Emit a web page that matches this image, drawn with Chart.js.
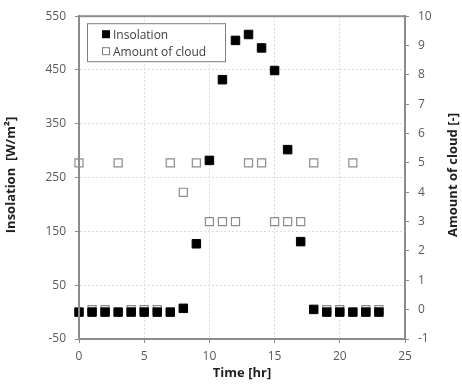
<!DOCTYPE html>
<html lang="en">
<head>
<meta charset="UTF-8">
<title>Insolation and cloud</title>
<script src="https://cdn.jsdelivr.net/npm/chart.js"></script>
<style>
  body { margin: 0; background: #fff; }
  .wrap { width: 462px; height: 385px; }
</style>
</head>
<body>
<div class="wrap"><canvas id="chart" width="462" height="385"></canvas></div>
<script>
// hours of the day
const hours = [0,1,2,3,4,5,6,7,8,9,10,11,12,13,14,15,16,17,18,19,20,21,22,23];
// insolation [W/m2]
const insolation = [0,0,0,0,0,0,0,0,7,127,282,432,505,516,491,449,302,131,5,0,0,0,0,0];
// amount of cloud [-]
const cloud = [5,0,0,5,0,0,0,5,4,5,3,3,3,5,5,3,3,3,5,0,0,5,0,0];

const xTicks = [0,5,10,15,20,25];
const leftTitle = 'Insolation  [W/m²]';
const rightTitle = 'Amount of cloud [-]';

const tickFont = { family: 'Open Sans', size: 12 };
const titleFont = { family: 'Open Sans', size: 13, weight: 'bold' };

// frame around plot, side titles (both read bottom-up) and legend box
const framePlugin = {
    id: 'frame',
    afterDraw(chart) {
        const { ctx, chartArea: a } = chart;
        ctx.save();
        ctx.strokeStyle = '#8c8c8c';
        ctx.lineWidth = 2;
        ctx.strokeRect(a.left, a.top, a.right - a.left, a.bottom - a.top);

        // axis titles
        [[11, leftTitle], [453, rightTitle]].forEach(([tx, text]) => {
            ctx.save();
            ctx.translate(tx, 175);
            ctx.rotate(-Math.PI / 2);
            ctx.font = 'bold 13px "Open Sans"';
            ctx.fillStyle = '#1f1f1f';
            ctx.textAlign = 'center';
            ctx.textBaseline = 'middle';
            ctx.fillText(text, 0, 0);
            ctx.restore();
        });

        // legend
        const x = a.left + 8, y = a.top + 7;
        ctx.lineWidth = 1;
        ctx.strokeStyle = '#7f7f7f';
        ctx.fillStyle = '#fff';
        ctx.fillRect(x, y, 138, 38);
        ctx.strokeRect(x + 0.5, y + 0.5, 138, 38);
        ctx.font = '12px "Open Sans"';
        ctx.textBaseline = 'middle';
        chart.data.datasets.forEach((ds, i) => {
            const cy = y + 11 + i * 17;
            if (ds.backgroundColor === '#000') {
                ctx.fillStyle = '#000';
                ctx.fillRect(x + 15, cy - 4, 8, 8);
            } else {
                ctx.strokeStyle = '#7f7f7f';
                ctx.strokeRect(x + 15.5, cy - 3.5, 7, 7);
            }
            ctx.fillStyle = '#404040';
            ctx.fillText(ds.label, x + 26, cy + 1);
        });
        ctx.restore();
    }
};

new Chart(document.getElementById('chart'), {
    type: 'scatter',
    data: {
        datasets: [{
            label: 'Insolation',
            data: hours.map((h, i) => ({ x: h, y: insolation[i] })),
            yAxisID: 'y',
            pointStyle: 'rect',
            pointRadius: 6,
            backgroundColor: '#000',
            borderColor: '#000',
            borderWidth: 1,
            clip: false,
            order: 1
        }, {
            label: 'Amount of cloud',
            data: hours.map((h, i) => ({ x: h, y: cloud[i] })),
            yAxisID: 'y1',
            pointStyle: 'rect',
            pointRadius: 5.7,
            backgroundColor: '#fff',
            borderColor: '#8c8c8c',
            borderWidth: 1.2,
            clip: false,
            order: 2
        }]
    },
    options: {
        responsive: false,
        animation: false,
        layout: { padding: { top: 15, left: 0, right: 0, bottom: 0 } },
        plugins: { legend: { display: false }, tooltip: { enabled: false } },
        scales: {
            x: {
                type: 'linear',
                min: 0, max: 25,
                afterBuildTicks: s => { s.ticks = xTicks.map(v => ({ value: v })); },
                ticks: { font: tickFont, color: '#595959', padding: 6 },
                grid: { color: '#dcdcdc', tickLength: 4, tickColor: '#8c8c8c' },
                border: { display: true, color: '#8c8c8c', width: 2, dash: [2, 2] },
                title: { display: true, text: 'Time [hr]', font: titleFont, color: '#1f1f1f', padding: { top: 1 } },
                afterFit: s => { s.height = 46; }
            },
            y: {
                position: 'left',
                min: -50, max: 550,
                ticks: { stepSize: 100, font: tickFont, color: '#595959', padding: 9 },
                grid: { color: '#dcdcdc', tickLength: 4, tickColor: '#8c8c8c' },
                border: { display: true, color: '#8c8c8c', width: 2, dash: [2, 2] },
                title: { display: false },
                afterFit: s => { s.width = 79; }
            },
            y1: {
                position: 'right',
                min: -1, max: 10,
                ticks: { stepSize: 1, font: tickFont, color: '#595959', padding: 9 },
                grid: { drawOnChartArea: false, tickLength: 4, tickColor: '#8c8c8c' },
                border: { display: true, color: '#8c8c8c', width: 2 },
                title: { display: false },
                afterFit: s => { s.width = 57; }
            }
        }
    },
    plugins: [framePlugin]
});
</script>
</body>
</html>
